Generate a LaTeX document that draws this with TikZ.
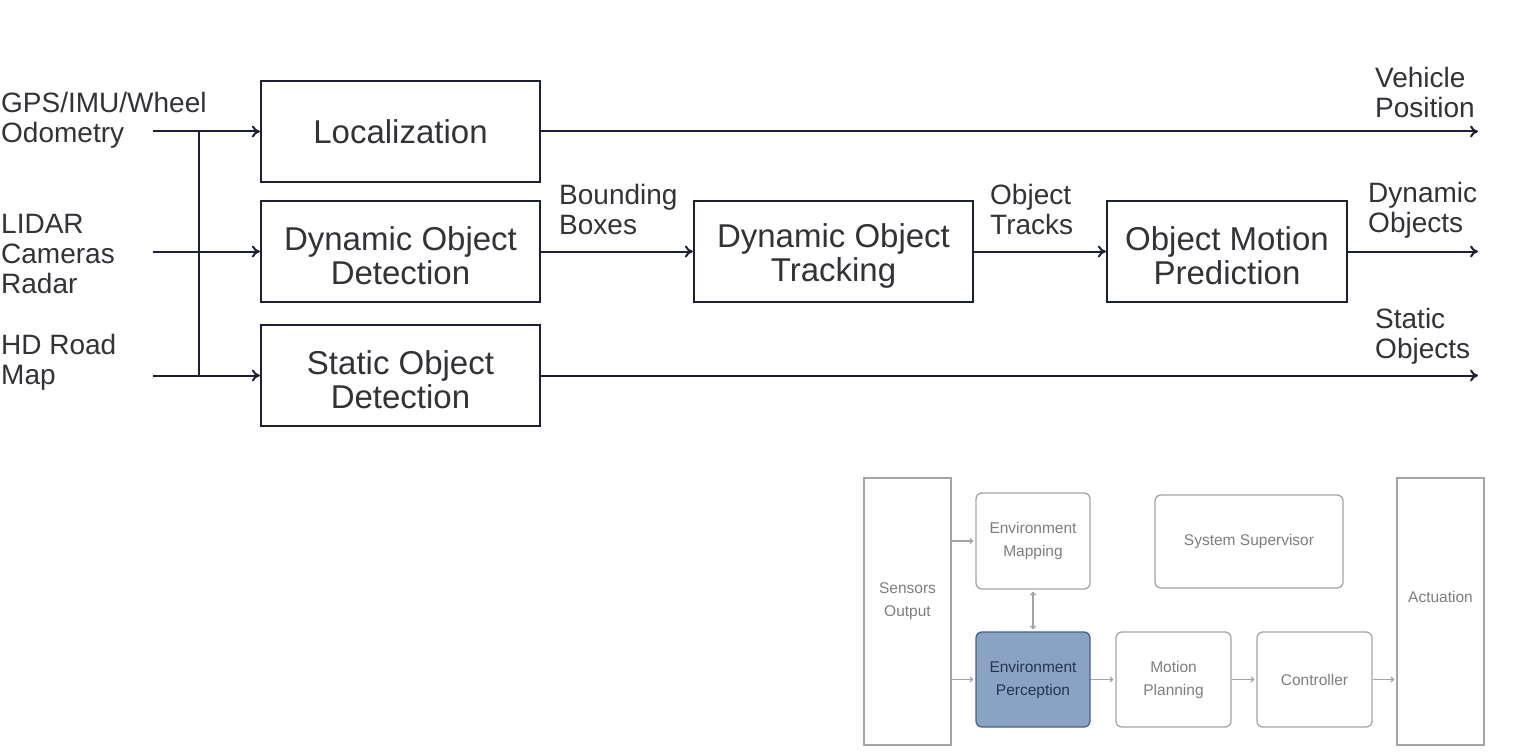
\documentclass[tikz,border=0pt]{standalone}
\usepackage{fontspec}
\setmainfont{Liberation Sans}
\usetikzlibrary{arrows.meta}
\definecolor{navy}{RGB}{30,32,52}
\definecolor{txt}{RGB}{50,50,56}
\definecolor{gborder}{RGB}{165,165,165}
\definecolor{gtext}{RGB}{125,125,125}
\definecolor{epfill}{RGB}{138,163,196}
\definecolor{epborder}{RGB}{72,96,135}
\definecolor{eptext}{RGB}{38,52,82}
\newcommand{\lowrule}{\rule{0pt}{32pt}}
\begin{document}
\begin{tikzpicture}[x=1pt,y=-1pt,
  bigbox/.style={draw=navy,line width=2.3pt,rectangle,minimum width=279pt,minimum height=101pt,inner sep=0pt,align=center,text=txt,font=\fontsize{33}{34}\selectfont},
  lbl/.style={inner sep=0pt,align=left,text=txt,font=\fontsize{28}{30}\selectfont},
  flow/.style={draw=navy,line width=2pt,-{To[length=8pt,width=12pt]}},
  busline/.style={draw=navy,line width=2pt},
  sbox/.style={draw=gborder,line width=1.3pt,rounded corners=6pt,rectangle,inner sep=0pt,align=center,text=gtext,font=\fontsize{15.5}{23}\selectfont},
  tall/.style={draw=gborder,line width=1.3pt,rectangle,inner sep=0pt,minimum width=87pt,minimum height=267pt},
  talltext/.style={align=center,text=gtext,inner sep=0pt,font=\fontsize{15.5}{23}\selectfont},
  sflow/.style={draw=gborder,line width=1.2pt,-{To[length=4pt,width=6pt]},shorten >=2pt},
]
\useasboundingbox (0,0) rectangle (1530,754);

% top diagram
\node[bigbox] (loc) at (400.5,131.5) {Localization};
\node[bigbox] (dod) at (400.5,251.5) {\lowrule Dynamic Object\\Detection};
\node[bigbox] (sod) at (400.5,375.5) {\lowrule Static Object\\Detection};
\node[bigbox] (dot) at (833.5,251.5) {\lowrule Dynamic Object\\Tracking};
\node[bigbox,minimum width=240pt] (omp) at (1227,251.5) {\lowrule Object Motion\\Prediction};

\node[lbl,anchor=west] (gps) at (1,120) {GPS/IMU/Wheel\\Odometry};
\node[lbl,anchor=west] (lidar) at (1,254) {LIDAR\\Cameras\\Radar};
\node[lbl,anchor=west] (hd) at (1,362) {HD Road\\Map};

\node[lbl,anchor=west] (vp) at (1375,92) {Vehicle\\Position};
\node[lbl,anchor=west] (dyo) at (1368,210) {Dynamic\\Objects};
\node[lbl,anchor=west] (sto) at (1375,336) {Static\\Objects};
\node[lbl,anchor=west] (bb) at (559,209) {Bounding\\Boxes};
\node[lbl,anchor=west] (ot) at (990,209) {Object\\Tracks};

\coordinate (in1) at (153,131.5);
\coordinate (in2) at (153,251.5);
\coordinate (in3) at (153,375.5);
\coordinate (b1) at (199,131.5);
\coordinate (b3) at (199,375.5);
\coordinate (out1) at (1478,131.5);
\coordinate (out2) at (1478,251.5);
\coordinate (out3) at (1478,375.5);

\draw[busline] (b1) -- (b3);
\draw[flow] (in1) -- (loc.west);
\draw[flow] (in2) -- (dod.west);
\draw[flow] (in3) -- (sod.west);
\draw[flow] (loc.east) -- (out1);
\draw[flow] (dod.east) -- (dot.west);
\draw[flow] (dot.east) -- (omp.west);
\draw[flow] (omp.east) -- (out2);
\draw[flow] (sod.east) -- (out3);

% bottom diagram
\node[tall,label={[talltext,yshift=10.5pt]center:Sensors\\Output}] (sens) at (907.5,611.5) {};
\node[tall,label={[talltext,yshift=14.5pt]center:Actuation}] (act) at (1440.5,611.5) {};
\node[sbox,minimum width=114pt,minimum height=96pt] (em) at (1033,541) {Environment\\Mapping};
\node[sbox,minimum width=114pt,minimum height=95pt,fill=epfill,draw=epborder,text=eptext] (ep) at (1033,679.5) {Environment\\Perception};
\node[sbox,minimum width=188pt,minimum height=93pt] (ss) at (1249,541.5) {System Supervisor};
\node[sbox,minimum width=115pt,minimum height=95pt] (mp) at (1173.5,679.5) {Motion\\Planning};
\node[sbox,minimum width=115pt,minimum height=95pt] (ctl) at (1314.5,679.5) {Controller};

\draw[sflow] (sens.east |- em.west) -- (em.west);
\draw[sflow] (sens.east |- ep.west) -- (ep.west);
\draw[sflow,{To[length=4pt,width=6pt]}-{To[length=4pt,width=6pt]},shorten <=2pt] (em.south) -- (ep.north);
\draw[sflow] (ep.east) -- (mp.west);
\draw[sflow] (mp.east) -- (ctl.west);
\draw[sflow] (ctl.east) -- (act.west |- ctl.east);
\end{tikzpicture}
\end{document}
